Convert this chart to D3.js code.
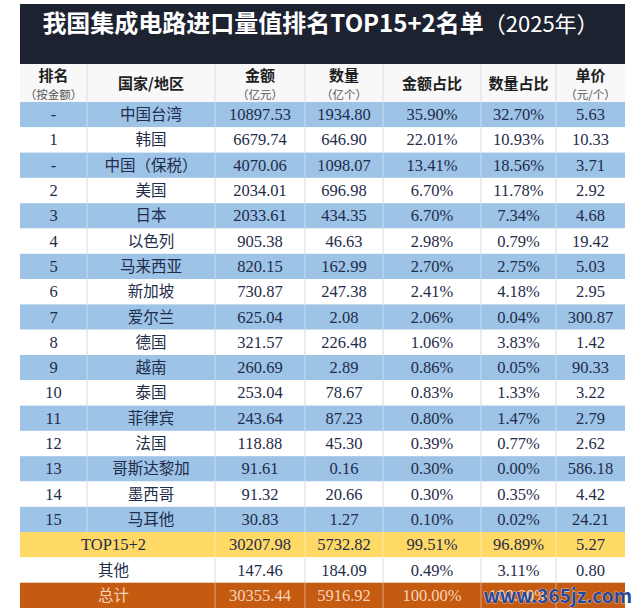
<!DOCTYPE html>
<html>
<head>
  <meta charset="utf-8">
  <script src="https://d3js.org/d3.v7.min.js"></script>
  <style>
    body { margin: 0; background: #fff; }
    text { font-family: "Noto Sans CJK SC", sans-serif; }
    .num { font-family: "Liberation Serif", serif; font-size: 16.5px; }
    .cjk { font-size: 15.5px; }
  </style>
</head>
<body>
<script>
  // table data
  var ranks = ["-", "1", "-", "2", "3", "4", "5", "6", "7", "8", "9", "10", "11", "12", "13", "14", "15"];
  var regions = ["中国台湾", "韩国", "中国（保税）", "美国", "日本", "以色列", "马来西亚", "新加坡",
    "爱尔兰", "德国", "越南", "泰国", "菲律宾", "法国", "哥斯达黎加", "墨西哥", "马耳他"];
  var amounts = [10897.53, 6679.74, 4070.06, 2034.01, 2033.61, 905.38, 820.15, 730.87,
    625.04, 321.57, 260.69, 253.04, 243.64, 118.88, 91.61, 91.32, 30.83];
  var quantities = [1934.80, 646.90, 1098.07, 696.98, 434.35, 46.63, 162.99, 247.38,
    2.08, 226.48, 2.89, 78.67, 87.23, 45.30, 0.16, 20.66, 1.27];
  var amountShares = [35.90, 22.01, 13.41, 6.70, 6.70, 2.98, 2.70, 2.41,
    2.06, 1.06, 0.86, 0.83, 0.80, 0.39, 0.30, 0.30, 0.10];
  var quantityShares = [32.70, 10.93, 18.56, 11.78, 7.34, 0.79, 2.75, 4.18,
    0.04, 3.83, 0.05, 1.33, 1.47, 0.77, 0.00, 0.35, 0.02];
  var unitPrices = [5.63, 10.33, 3.71, 2.92, 4.68, 19.42, 5.03, 2.95,
    300.87, 1.42, 90.33, 3.22, 2.79, 2.62, 586.18, 4.42, 24.21];

  // summary rows (the last unit price is hidden under the watermark)
  var summaryLabels = ["TOP15+2", "其他", "总计"];
  var summaryAmounts = [30207.98, 147.46, 30355.44];
  var summaryQuantities = [5732.82, 184.09, 5916.92];
  var summaryAmountShares = [99.51, 0.49, 100.00];
  var summaryQuantityShares = [96.89, 3.11, 100.00];
  var summaryUnitPrices = [5.27, 0.80, null];

  var headers = [
    ["排名", "（按金额）"], ["国家/地区", ""], ["金额", "（亿元）"], ["数量", "（亿个）"],
    ["金额占比", ""], ["数量占比", ""], ["单价", "（元/个）"]
  ];
  var title = "我国集成电路进口量值排名TOP15+2名单";
  var titleYear = "（2025年）";
  var watermark = "www.365jz.com";

  var W = 640, H = 616;
  var left = 20, right = 625;
  var colWidths = [67, 128, 90, 78, 98, 75, 69];
  var colEdges = [left].concat(Array.from(d3.cumsum(colWidths), function(d) { return left + d; }));
  var colMid = function(i) { return (colEdges[i] + colEdges[i + 1]) / 2; };
  var fmt = function(v) { return v == null ? "" : v.toFixed(2); };

  var svg = d3.select("body").append("svg")
    .attr("width", W).attr("height", H);

  // title bar
  svg.append("rect").attr("x", left).attr("y", 4).attr("width", right - left).attr("height", 60)
    .attr("fill", "#1d2231");
  var t = svg.append("text").attr("x", (left + right) / 2 - 2).attr("y", 32)
    .attr("text-anchor", "middle").attr("fill", "#fff");
  t.append("tspan").attr("font-size", 24).attr("font-weight", 700).text(title);
  t.append("tspan").attr("font-size", 22).attr("font-weight", 400).text(titleYear);

  // header row
  var headTop = 64, headBottom = 102;
  svg.append("rect").attr("x", left).attr("y", headTop).attr("width", right - left)
    .attr("height", headBottom - headTop).attr("fill", "#f8f8f8");
  headers.forEach(function(h, i) {
    var hasSub = h[1] !== "";
    svg.append("text").attr("x", colMid(i)).attr("y", hasSub ? 81 : 89)
      .attr("text-anchor", "middle").attr("font-size", 15).attr("font-weight", 700)
      .attr("fill", "#1e1e1e").text(h[0]);
    if (hasSub) {
      svg.append("text").attr("x", colMid(i)).attr("y", 99)
        .attr("text-anchor", "middle").attr("font-size", 11.5)
        .attr("fill", "#555").text(h[1]);
    }
  });
  svg.selectAll("line.head").data(colEdges.slice(1, -1)).join("line").attr("class", "head")
    .attr("x1", function(e) { return e; }).attr("x2", function(e) { return e; })
    .attr("y1", headTop).attr("y2", headBottom).attr("stroke", "#dcdcdc");

  // rows
  var rows = ranks.map(function(r, i) {
    return { kind: i % 2 === 0 ? "blue" : "white", cells: [r, regions[i], fmt(amounts[i]),
      fmt(quantities[i]), fmt(amountShares[i]) + "%",
      fmt(quantityShares[i]) + "%", fmt(unitPrices[i])] };
  });
  summaryLabels.forEach(function(l, i) {
    rows.push({ kind: ["yellow", "white", "orange"][i], merged: true, cells: [l,
      fmt(summaryAmounts[i]), fmt(summaryQuantities[i]),
      fmt(summaryAmountShares[i]) + "%", fmt(summaryQuantityShares[i]) + "%",
      fmt(summaryUnitPrices[i])] });
  });

  var y = d3.scaleBand().domain(d3.range(rows.length)).range([headBottom, 608]);
  var fills = { blue: "#9dc3e6", white: "#ffffff", yellow: "#ffd965", orange: "#c55a11" };

  var g = svg.selectAll("g.row").data(rows).join("g").attr("class", "row")
    .attr("transform", function(d, i) { return "translate(0," + y(i) + ")"; });

  g.append("rect").attr("x", left).attr("width", right - left).attr("height", y.bandwidth())
    .attr("fill", function(d) { return fills[d.kind]; });

  // column dividers + cell texts
  g.each(function(d) {
    var row = d3.select(this);
    var edges = colEdges.slice(1, -1).filter(function(e, k) { return !(d.merged && k === 0); });
    row.selectAll("line").data(edges).join("line")
      .attr("x1", function(e) { return e; }).attr("x2", function(e) { return e; })
      .attr("y1", 0).attr("y2", y.bandwidth())
      .attr("stroke", d.kind === "white" ? "#d9d9d9" : "rgba(255,255,255,0.45)")
      .attr("stroke-width", 1);

    var xs = d.merged
      ? [(colEdges[0] + colEdges[2]) / 2 - 4].concat(d3.range(2, 7).map(colMid))
      : d3.range(7).map(colMid);
    row.selectAll("text").data(d.cells).join("text")
      .attr("class", function(c, k) {
        var isCjk = d.merged ? (k === 0 && c !== "TOP15+2") : k === 1;
        return isCjk ? "cjk" : "num";
      })
      .attr("x", function(c, k) { return xs[k]; })
      .attr("y", y.bandwidth() / 2 + 5.5)
      .attr("text-anchor", "middle")
      .attr("fill", d.kind === "orange" ? "#f6d5bd" : "#1f2c4a")
      .text(function(c) { return c; });
  });

  // site watermark in the bottom right corner
  svg.append("text").attr("x", 632).attr("y", 603).attr("text-anchor", "end")
    .attr("font-family", "Liberation Serif, serif").attr("font-weight", 700)
    .attr("font-size", 19).attr("fill", "#27479a")
    .attr("stroke", "#ffffff").attr("stroke-width", 0.6).attr("paint-order", "stroke")
    .text(watermark);
</script>
</body>
</html>
